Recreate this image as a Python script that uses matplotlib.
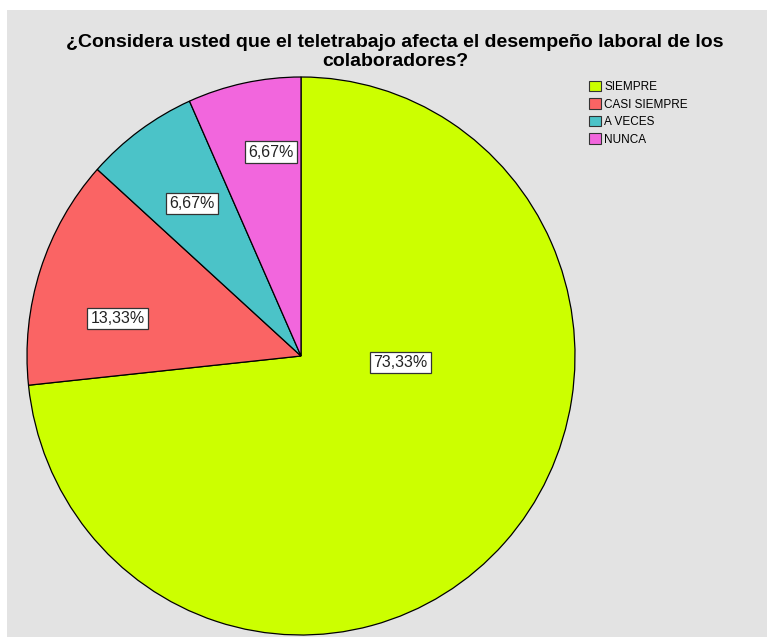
import matplotlib
matplotlib.use("Agg")
import matplotlib.pyplot as plt
from matplotlib.patches import Rectangle, Patch

plt.rcParams['font.family'] = ['Liberation Sans', 'DejaVu Sans']

categorias = ['SIEMPRE', 'CASI SIEMPRE', 'A VECES', 'NUNCA']
porcentajes = [73.33, 13.33, 6.67, 6.67]
colores = ['#ccff00', '#fa6464', '#4bc3c8', '#f266dd']
etiquetas = ['73,33%', '13,33%', '6,67%', '6,67%']
# label positions inside the pie (pie radius = 1)
pos_etiquetas = [(0.363, -0.023), (-0.670, 0.134), (-0.398, 0.547), (-0.109, 0.731)]

W, H = 767, 637
fig = plt.figure(figsize=(W / 100, H / 100), dpi=100)
fig.patch.set_facecolor('white')
fig.patches.append(Rectangle((7 / W, 0), 1, (H - 10) / H, transform=fig.transFigure,
                             facecolor='#e3e3e3', edgecolor='none', zorder=-10))

cx, cy, rx, ry = 301, 356, 274, 279
ax = fig.add_axes([(cx - rx) / W, (H - cy - ry) / H, 2 * rx / W, 2 * ry / H])
ax.set_facecolor('none')
wedges, _ = ax.pie(porcentajes, colors=colores, startangle=90, counterclock=False,
                   radius=1, wedgeprops=dict(edgecolor='black', linewidth=0.9))
for w in wedges:
    w.set_clip_on(False)
ax.set_xlim(-1, 1)
ax.set_ylim(-1, 1)
ax.set_aspect('auto')
ax.axis('off')

for txt, (x, y) in zip(etiquetas, pos_etiquetas):
    ax.text(x, y, txt, ha='center', va='center', fontsize=11.5, color='#222222',
            bbox=dict(boxstyle='square,pad=0.2', facecolor='white', edgecolor='#333333', linewidth=0.9))

fig.text(395 / W, 1 - 52 / H,
         '¿Considera usted que el teletrabajo afecta el desempeño laboral de los\ncolaboradores?',
         ha='center', va='center', fontsize=14, fontweight='bold', linespacing=1.15)

handles = [Patch(facecolor=c, edgecolor='#333333', linewidth=0.8) for c in colores]
fig.legend(handles, categorias, loc='upper left', bbox_to_anchor=(589 / W, 1 - 81 / H),
           frameon=False, fontsize=8.5, handlelength=1.0, handleheight=0.95,
           handletextpad=0.3, labelspacing=0.45, borderpad=0, borderaxespad=0)

fig.savefig('out.png', dpi=100)
